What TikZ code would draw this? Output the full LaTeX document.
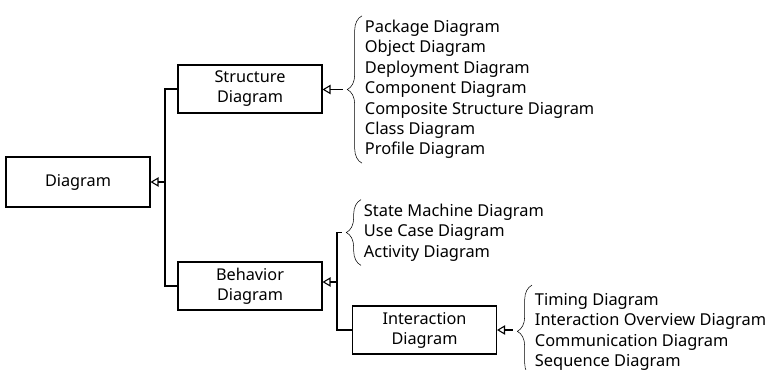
\documentclass[tikz,border=0pt]{standalone}
\usepackage{fontspec}
\setmainfont{Noto Sans}
\usepackage{tikz}
\usetikzlibrary{arrows.meta, positioning, calc, decorations.pathreplacing}

\begin{document}
\begin{tikzpicture}[x=0.75pt, y=-0.75pt, % pixel grid
    box/.style={draw, thick, minimum width=108pt, minimum height=36pt, align=center, inner sep=1pt,
        font=\fontsize{12.2}{15}\selectfont},
    list/.style={anchor=west, align=left, inner xsep=2pt, inner ysep=3pt,
        font=\fontsize{12.3}{15.3}\selectfont},
    gen/.style={thick, -{Triangle[open, length=6pt, width=7pt]}},
    curly/.style={thin, decorate, decoration={brace, amplitude=11pt}}]
                \useasboundingbox (0,0) rectangle (766,369);
                \node[box, minimum height=37.5pt] (diag) at (78,182) {Diagram};
                \node[box] (struct) at (250,89) {Structure\\Diagram};
                \node[box] (behav) at (250,286) {Behavior\\Diagram};
                \node[box] (inter) at (424.5,330) {Interaction\\Diagram};
                % lists with braces
                \node[list] (slist) at (362,89.5) {Package Diagram\\Object Diagram\\Deployment Diagram\\Component Diagram\\Composite Structure Diagram\\Class Diagram\\Profile Diagram};
                \node[list] (blist) at (361,232.5) {State Machine Diagram\\Use Case Diagram\\Activity Diagram};
                \node[list] (ilist) at (532,332) {Timing Diagram\\Interaction Overview Diagram\\Communication Diagram\\Sequence Diagram};
                \draw[curly] (slist.south west) -- (slist.north west);
                \draw[curly] (blist.south west) -- (blist.north west);
                \draw[curly] ([yshift=-2pt]ilist.south west) -- ([yshift=3pt]ilist.north west);
                \coordinate (st) at ([xshift=-14.5pt]slist.west);
                \coordinate (bt) at ([xshift=-14.5pt]blist.west);
                \coordinate (it) at ([xshift=-14.5pt]ilist.west);
                % generalization connectors
                \coordinate (j1) at (165,182);
                \coordinate (j2) at (337,282);
                \draw[thick] (struct.west) -| (j1) |- (behav.west);
                \draw[gen] (j1) -- (j1 -| diag.east);
                \draw[thick] (bt) -| (j2) |- (inter.west);
                \draw[gen] (j2) -- (j2 -| behav.east);
                \draw[gen] (st) -- (st -| struct.east);
                \draw[gen] (it |- inter.east) -- (inter.east);
            \end{tikzpicture}
\end{document}
